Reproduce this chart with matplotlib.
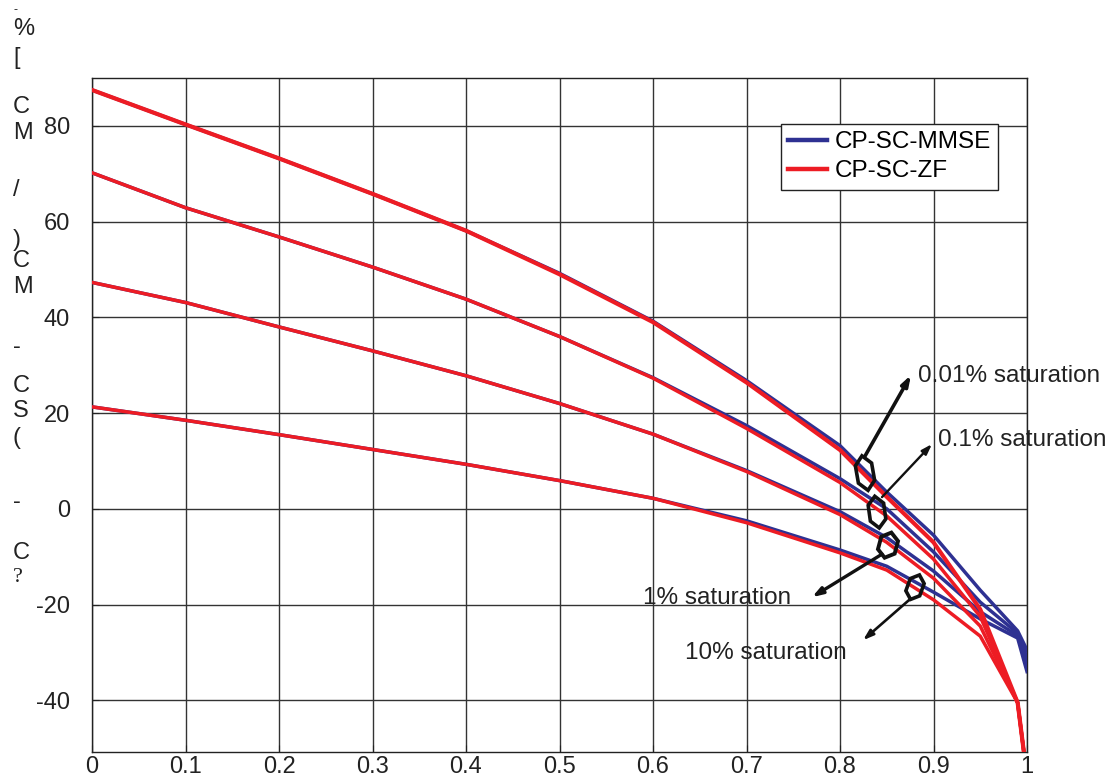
import numpy as np
import matplotlib
matplotlib.use('Agg')
from matplotlib import pyplot as plt
from matplotlib.patches import Polygon
from matplotlib import transforms

plt.rcParams['font.family'] = ['Liberation Sans', 'DejaVu Sans']
plt.rcParams['axes.unicode_minus'] = False

# данные
x = [0, 0.1, 0.2, 0.3, 0.4, 0.5, 0.6, 0.7, 0.8, 0.85, 0.9, 0.95, 0.99, 1.0]

mmse_001 = [87.5, 80.3, 73.2, 65.8, 58.1, 49.2, 39.2, 26.8, 13.2, 3.5, -5.5, -17.0, -25.5, -29.5]
zf_001 = [87.5, 80.3, 73.2, 65.8, 58.1, 49.0, 39.0, 26.4, 12.3, 2.5, -7.0, -21.0, -40.5, -56.0]

mmse_01 = [70.2, 62.9, 56.8, 50.5, 43.8, 36.0, 27.4, 17.4, 6.3, 0.0, -9.0, -19.5, -26.0, -31.0]
zf_01 = [70.2, 62.9, 56.8, 50.5, 43.8, 36.0, 27.3, 16.8, 5.5, -1.5, -10.5, -22.5, -40.5, -56.0]

mmse_1 = [47.3, 43.1, 38.0, 33.0, 27.8, 22.0, 15.6, 8.0, -0.6, -6.0, -13.0, -21.5, -26.5, -32.5]
zf_1 = [47.3, 43.1, 38.0, 33.0, 27.8, 22.0, 15.6, 7.8, -1.2, -7.0, -14.5, -24.5, -40.5, -56.0]

mmse_10 = [21.3, 18.5, 15.5, 12.4, 9.3, 5.9, 2.2, -2.5, -8.6, -12.0, -17.4, -23.0, -27.0, -34.0]
zf_10 = [21.3, 18.5, 15.5, 12.4, 9.3, 5.9, 2.2, -2.9, -9.2, -12.8, -19.0, -26.6, -40.5, -56.0]

legend_labels = ['CP-SC-MMSE', 'CP-SC-ZF']
xtick_vals = [0, 0.1, 0.2, 0.3, 0.4, 0.5, 0.6, 0.7, 0.8, 0.9, 1]
xtick_labels = ['0', '0.1', '0.2', '0.3', '0.4', '0.5', '0.6', '0.7', '0.8', '0.9', '1']
ytick_vals = [-40, -20, 0, 20, 40, 60, 80]

# подпись оси y - символы стоят друг под другом (как в оригинале)
ylabel_chars = ['-', '%', '[', 'C', 'M', '/', ')', 'C', 'M', '-', 'C', 'S', '(', '-', 'C', '?']
ylabel_pos = [10, 29, 58, 107, 133, 190, 240, 261, 287, 347, 386, 411, 438, 502, 553, 578]

blue = '#2e3192'
red = '#ed1c24'

fig = plt.figure(figsize=(11.11, 7.78), dpi=100)
ax = fig.add_axes([92 / 1111, 1 - 752 / 778, 935 / 1111, 674 / 778])

groups = [(mmse_001, zf_001, 3.0), (mmse_01, zf_01, 2.5), (mmse_1, zf_1, 2.5), (mmse_10, zf_10, 2.5)]
for i, (m, z, lw) in enumerate(groups):
    ax.plot(x, m, color=blue, lw=2.5, label=legend_labels[0] if i == 0 else None, zorder=3)
for i, (m, z, lw) in enumerate(groups):
    ax.plot(x, z, color=red, lw=lw, label=legend_labels[1] if i == 0 else None, zorder=4)

ax.set_xlim(0, 1)
ax.set_ylim(-50.8, 90)
ax.set_xticks(xtick_vals)
ax.set_xticklabels(xtick_labels)
ax.set_yticks(ytick_vals)
ax.tick_params(direction='in', length=5, labelsize=17, colors='#222222')
ax.tick_params(axis='x', pad=3)
ax.tick_params(axis='y', pad=16)
ax.grid(True, color='#333333', lw=1.0)
ax.set_axisbelow(True)
for s in ax.spines.values():
    s.set_color('#222222')
    s.set_linewidth(1.0)

leg = ax.legend(loc='upper left', bbox_to_anchor=(0.737, 0.932), fontsize=17.5,
                frameon=True, fancybox=False, framealpha=1, edgecolor='#222222',
                handlelength=1.6, handletextpad=0.3, labelspacing=0.3,
                borderpad=0.3, borderaxespad=0)
leg.get_frame().set_linewidth(1.0)
for h in leg.get_lines():
    h.set_linewidth(3.2)


def to_data(px, py):
    return (px - 92) / 935, (508.7 - py) / 4.783


def hexagon(px, py, w, h, ang, lw):
    cx, cy = to_data(px, py)
    t = np.pi / 2 + np.arange(6) * np.pi / 3
    verts = np.column_stack([w / 200 * np.cos(t), h / 200 * np.sin(t)])
    tr = (transforms.Affine2D().rotate_deg(ang) + fig.dpi_scale_trans
          + transforms.ScaledTranslation(cx, cy, ax.transData))
    p = Polygon(verts, closed=True, fill=False, edgecolor='#111111', lw=lw,
                transform=tr, zorder=6, clip_on=False)
    ax.add_patch(p)


# обводки и стрелки
hexagon(865, 473, 19, 35, 10, 2.6)
hexagon(877, 512, 18, 32, 8, 2.6)
hexagon(888, 545, 20, 26, -15, 2.8)
hexagon(915, 587, 17, 26, -20, 2.6)

arrows = [((865, 456), (911, 375), 2.6, '0.01% saturation', (918, 376)),
          ((882, 497), (932, 444), 1.7, '0.1% saturation', (938, 440)),
          ((882, 554), (812, 597), 2.4, '1% saturation', (643, 598)),
          ((910, 599), (863, 640), 1.9, '10% saturation', (685, 653))]
for start, end, lw, txt, tpos in arrows:
    ax.annotate('', xy=to_data(*end), xytext=to_data(*start),
                arrowprops=dict(arrowstyle='-|>,head_length=0.6,head_width=0.2',
                                color='#111111', lw=lw, shrinkA=0, shrinkB=0),
                zorder=6, annotation_clip=False)
    ax.text(*to_data(*tpos), txt, fontsize=17.5, ha='left', va='center',
            color='#222222', zorder=7, clip_on=False)

for ch, py in zip(ylabel_chars, ylabel_pos):
    if ch == '?':
        fig.text(13 / 1111, 1 - py / 778, ch, fontsize=16, family='Liberation Serif',
                 ha='left', va='center', color='#222222')
    elif ch == '-' and py < 20:
        fig.text(13 / 1111, 1 - py / 778, ch, fontsize=9, ha='left', va='center',
                 color='#222222')
    else:
        fig.text(13 / 1111, 1 - py / 778, ch, fontsize=17, ha='left', va='center',
                 color='#222222')

plt.savefig('out.png', dpi=100)
